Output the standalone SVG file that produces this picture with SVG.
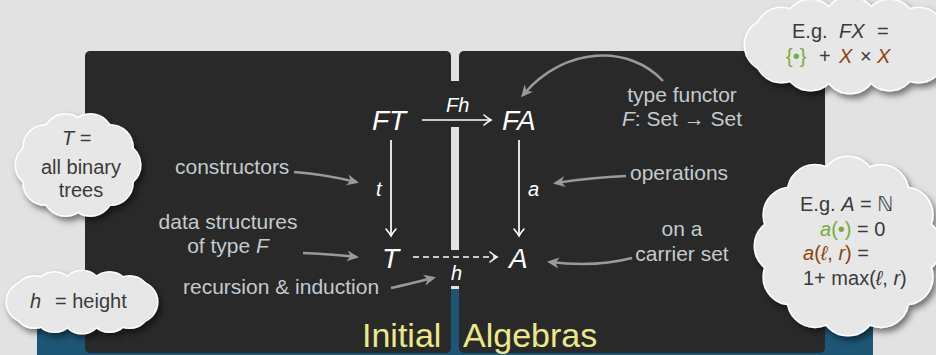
<svg xmlns="http://www.w3.org/2000/svg" xmlns:xlink="http://www.w3.org/1999/xlink" width="936" height="355" viewBox="0 0 936 355">
<style>
.lbl{font-family:"Liberation Sans","DejaVu Sans",sans-serif;font-size:21px;fill:#c2cbd0}
.math{font-family:"Liberation Sans","DejaVu Sans",sans-serif;font-style:italic;fill:#ffffff}
.big{font-size:28px}
.sm{font-size:20px}
.ct{font-family:"Liberation Sans","DejaVu Sans",sans-serif;font-size:20px;fill:#3a3a3a}
.it{font-style:italic}
.grn{fill:#73ae42}
.brn{fill:#8a4510}
.title{font-family:"Liberation Sans","DejaVu Sans",sans-serif;font-size:34px;fill:#ece88a}
.wl{stroke:#ffffff;stroke-width:1.7;fill:none}
.gl{stroke:#9a9a9a;stroke-width:2.5;fill:none;marker-end:url(#gs)}
</style>
<defs>
<marker id="to" viewBox="-10 -6 12 12" refX="0" refY="0" markerWidth="12" markerHeight="12" markerUnits="userSpaceOnUse" orient="auto">
<path d="M-7,-5 Q-3,-1.5 0,0 Q-3,1.5 -7,5" fill="none" stroke="#ffffff" stroke-width="1.6" stroke-linecap="round"/>
</marker>
<marker id="gs" viewBox="-14 -7 16 14" refX="-3" refY="0" markerWidth="16" markerHeight="14" markerUnits="userSpaceOnUse" orient="auto">
<path d="M0,0 L-12,-5.5 L-8.5,0 L-12,5.5 Z" fill="#9a9a9a"/>
</marker>
<filter id="sh" x="-20%" y="-25%" width="150%" height="170%">
<feDropShadow dx="3" dy="4" stdDeviation="3" flood-color="#000000" flood-opacity="0.5"/>
</filter>
<g id="lobesL">
<circle cx="118" cy="165" r="22"/><circle cx="110.4" cy="182.6" r="22"/><circle cx="90.4" cy="193.5" r="22"/><circle cx="65.6" cy="193.5" r="22"/><circle cx="45.6" cy="182.6" r="22"/><circle cx="38" cy="165" r="22"/><circle cx="45.6" cy="147.4" r="22"/><circle cx="65.6" cy="136.5" r="22"/><circle cx="90.4" cy="136.5" r="22"/><circle cx="110.4" cy="147.4" r="22"/><ellipse cx="78" cy="165" rx="44" ry="34"/>
</g>
<g id="lobesR">
<circle cx="914" cy="246" r="27"/><circle cx="905.2" cy="277" r="27"/><circle cx="881" cy="299.7" r="27"/><circle cx="848" cy="308" r="27"/><circle cx="815" cy="299.7" r="27"/><circle cx="790.8" cy="277" r="27"/><circle cx="782" cy="246" r="27"/><circle cx="790.8" cy="215" r="27"/><circle cx="815" cy="192.3" r="27"/><circle cx="848" cy="184" r="27"/><circle cx="881" cy="192.3" r="27"/><circle cx="905.2" cy="215" r="27"/><ellipse cx="848" cy="246" rx="70" ry="66"/>
</g>
<g id="lobesT">
<circle cx="929" cy="45" r="26"/><circle cx="918.4" cy="56" r="26"/><circle cx="889.5" cy="64.1" r="26"/><circle cx="850" cy="67" r="26"/><circle cx="810.5" cy="64.1" r="26"/><circle cx="781.6" cy="56" r="26"/><circle cx="771" cy="45" r="26"/><circle cx="781.6" cy="34" r="26"/><circle cx="810.5" cy="25.9" r="26"/><circle cx="850" cy="23" r="26"/><circle cx="889.5" cy="25.9" r="26"/><circle cx="918.4" cy="34" r="26"/><ellipse cx="850" cy="45" rx="84" ry="28"/>
</g>
<g id="lobesB">
<circle cx="137" cy="302" r="20"/><circle cx="129.6" cy="307.5" r="20"/><circle cx="109.5" cy="311.5" r="20"/><circle cx="82" cy="313" r="20"/><circle cx="54.5" cy="311.5" r="20"/><circle cx="34.4" cy="307.5" r="20"/><circle cx="27" cy="302" r="20"/><circle cx="34.4" cy="296.5" r="20"/><circle cx="54.5" cy="292.5" r="20"/><circle cx="82" cy="291" r="20"/><circle cx="109.5" cy="292.5" r="20"/><circle cx="129.6" cy="296.5" r="20"/><ellipse cx="82" cy="302" rx="60" ry="20"/>
</g>
</defs>

<rect x="0" y="0" width="936" height="355" fill="#e2e2e2"/>
<g id="frame">
<rect x="37" y="289" width="836" height="66" fill="#1d5575"/>
<rect x="85" y="51" width="366" height="302" rx="5" fill="#292929"/>
<rect x="459" y="51" width="366" height="302" rx="5" fill="#292929"/>
<rect x="450" y="81" width="10" height="46" fill="#292929"/>
<rect x="450" y="250" width="10" height="36" fill="#292929"/>
<text class="title" x="362" y="347">Initial</text>
<text class="title" x="463" y="347">Algebras</text>
</g>

<g id="connectors">
<path class="wl" d="M422,120 L491,120" marker-end="url(#to)"/>
<path class="wl" d="M391,140 L391,236" marker-end="url(#to)"/>
<path class="wl" d="M519,140 L519,236" marker-end="url(#to)"/>
<path class="wl" d="M413,257 L497,257" stroke-dasharray="6 4" marker-end="url(#to)"/>
<text class="math sm" x="446" y="112">Fh</text>
<text class="math sm" x="376" y="196">t</text>
<text class="math sm" x="528" y="196">a</text>
<text class="math sm" x="451" y="280">h</text>
<path class="gl" d="M294,172 C320,174 340,178 356,182"/>
<path class="gl" d="M303,253 C325,254 340,255 356,257"/>
<path class="gl" d="M391,288 C405,285 420,281 433,278"/>
<path class="gl" d="M663,81 C630,45 565,45 523,95"/>
<path class="gl" d="M626,176 C600,177 575,180 556,183"/>
<path class="gl" d="M632,258 C605,265 575,265 550,262"/>
</g>

<g id="node-FT"><text class="math big" x="372" y="130">FT</text></g>
<g id="node-FA"><text class="math big" x="502" y="130">FA</text></g>
<g id="node-T"><text class="math big" x="382" y="268">T</text></g>
<g id="node-A"><text class="math big" x="509" y="268">A</text></g>

<g id="label-constructors"><text class="lbl" x="175" y="174">constructors</text></g>
<g id="label-datastructures"><text class="lbl" x="228" y="229" text-anchor="middle">data structures</text><text class="lbl" x="228" y="253" text-anchor="middle">of type <tspan font-style="italic">F</tspan></text></g>
<g id="label-recursion"><text class="lbl" x="183" y="294">recursion &amp; induction</text></g>
<g id="label-functor"><text class="lbl" x="682" y="102" text-anchor="middle">type functor</text><text class="lbl" x="682" y="126" text-anchor="middle"><tspan font-style="italic">F</tspan>: Set → Set</text></g>
<g id="label-operations"><text class="lbl" x="630" y="180">operations</text></g>
<g id="label-carrier"><text class="lbl" x="682" y="236" text-anchor="middle">on a</text><text class="lbl" x="682" y="261" text-anchor="middle">carrier set</text></g>

<g id="cloud-trees">
<g filter="url(#sh)"><use xlink:href="#lobesL" fill="#e7e7e7" stroke="#ffffff" stroke-width="3"/><use xlink:href="#lobesL" fill="#e7e7e7"/></g>
<text class="ct" x="62" y="145"><tspan class="it">T</tspan> =</text>
<text class="ct" x="81" y="174" text-anchor="middle">all binary</text>
<text class="ct" x="81" y="197" text-anchor="middle">trees</text>
</g>

<g id="cloud-height">
<g filter="url(#sh)"><use xlink:href="#lobesB" fill="#e7e7e7" stroke="#ffffff" stroke-width="3"/><use xlink:href="#lobesB" fill="#e7e7e7"/></g>
<text class="ct" x="30" y="308"><tspan class="it">h</tspan></text>
<text class="ct" x="55" y="308">= height</text>
</g>

<g id="cloud-FX">
<g filter="url(#sh)"><use xlink:href="#lobesT" fill="#e7e7e7" stroke="#ffffff" stroke-width="3"/><use xlink:href="#lobesT" fill="#e7e7e7"/></g>
<text class="ct" x="792" y="38">E.g.</text>
<text class="ct it" x="839" y="38">FX</text>
<text class="ct" x="877" y="38">=</text>
<text class="ct grn" x="786" y="63">{•}</text>
<text class="ct" x="819" y="63">+</text>
<text class="ct it brn" x="839" y="63">X</text>
<text class="ct" x="860" y="63">×</text>
<text class="ct it brn" x="877" y="63">X</text>
</g>

<g id="cloud-height-alg">
<g filter="url(#sh)"><use xlink:href="#lobesR" fill="#e7e7e7" stroke="#ffffff" stroke-width="3"/><use xlink:href="#lobesR" fill="#e7e7e7"/></g>
<text class="ct" x="800" y="211">E.g. <tspan class="it">A</tspan> = ℕ</text>
<text class="ct" x="820" y="236"><tspan class="grn it">a</tspan><tspan class="grn">(•)</tspan> = 0</text>
<text class="ct" x="803" y="260"><tspan class="brn it">a</tspan><tspan class="brn">(</tspan><tspan class="brn it">ℓ</tspan><tspan class="brn">, </tspan><tspan class="brn it">r</tspan><tspan class="brn">)</tspan> =</text>
<text class="ct" x="803" y="285">1+ max(<tspan class="it">ℓ</tspan>, <tspan class="it">r</tspan>)</text>
</g>
</svg>
